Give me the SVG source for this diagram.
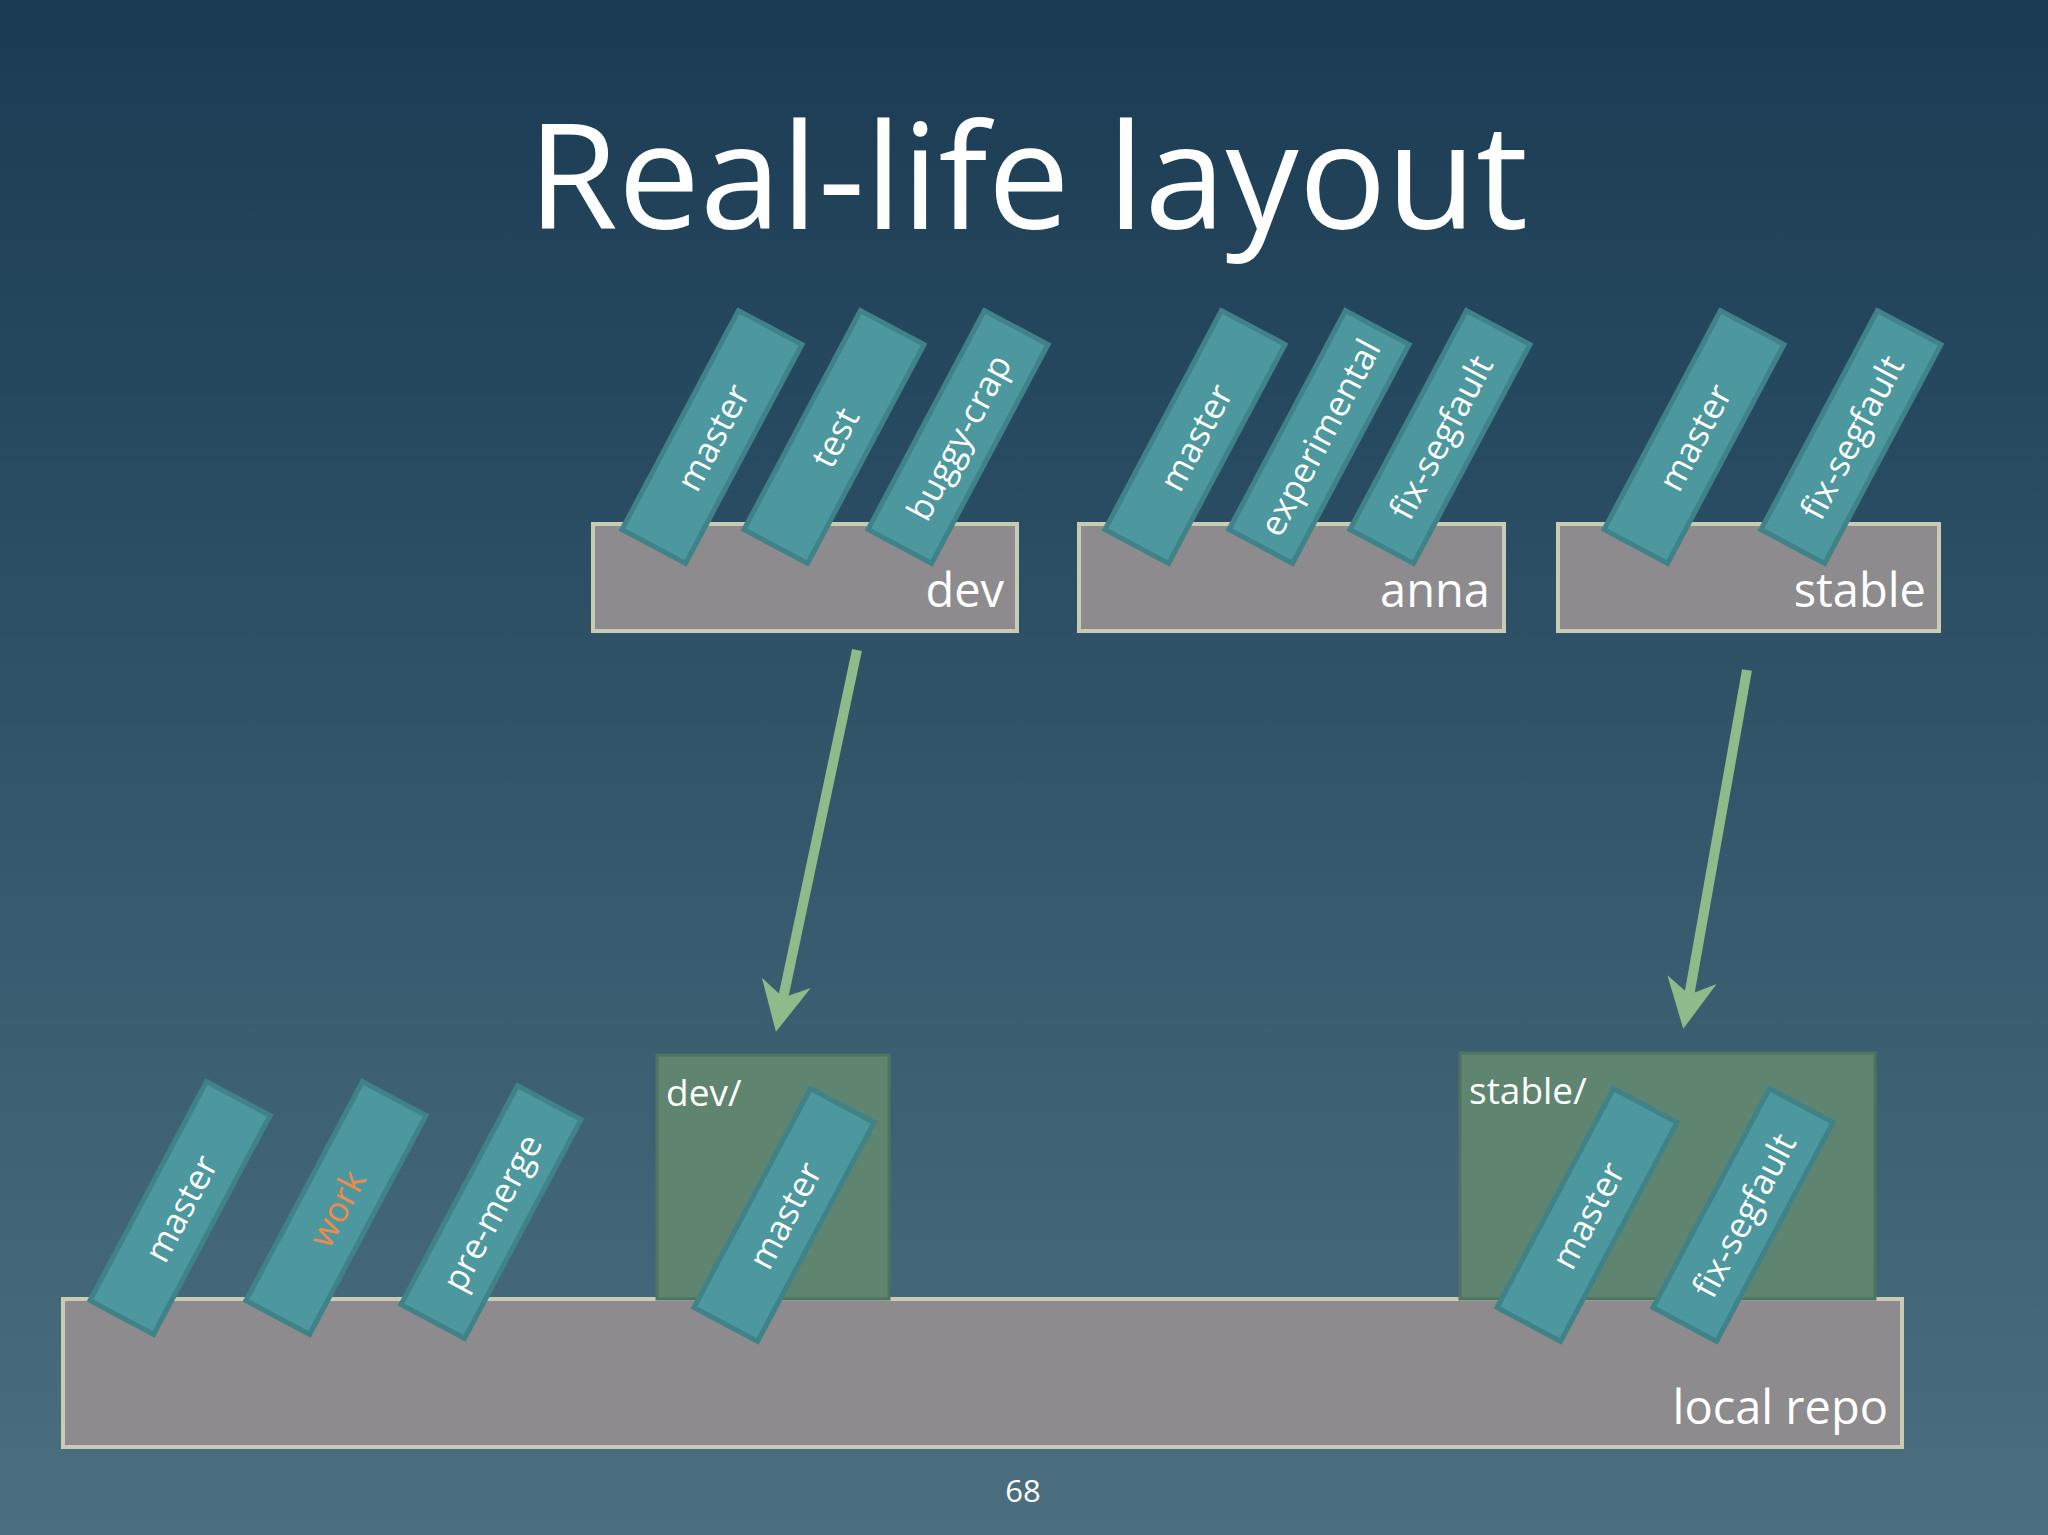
<svg xmlns="http://www.w3.org/2000/svg" width="2048" height="1535" viewBox="0 0 2048 1535">
<defs>
<linearGradient id="bg" x1="0" y1="0" x2="0" y2="1"><stop offset="0" stop-color="#1a3b53"/><stop offset="1" stop-color="#4b6f80"/></linearGradient>
<marker id="ah" viewBox="0 0 10 10" refX="8" refY="5" markerWidth="5" markerHeight="5" orient="auto"><path d="M0,0 L10,5 L0,10 L3,5 Z" fill="#8fba8a"/></marker>
</defs>
<style>
text{font-family:"Open Sans","Liberation Sans",sans-serif;fill:#fff}
.repo{fill:#8d8b8e;stroke:#c9cbb4;stroke-width:4}
.grp{fill:#5f8470;stroke:#4e7460;stroke-width:3}
.tag rect{fill:#4c989e;stroke:#3f8388;stroke-width:5}
.tag text{font-size:35px;text-anchor:middle;dominant-baseline:central}
.lbl{font-size:47px;text-anchor:end}
.sub{font-size:37px}
.arr{stroke:#8fba8a;stroke-width:10;fill:none;marker-end:url(#ah)}
</style>
<rect width="2048" height="1535" fill="url(#bg)"/>
<text x="1028" y="229" font-size="146" text-anchor="middle">Real-life layout</text>
<g id="connectors">
<line class="arr" x1="857" y1="650" x2="778" y2="1022"/>
<line class="arr" x1="1747" y1="670" x2="1685" y2="1019"/>
</g>
<g id="local-repo"><rect class="repo" x="63" y="1299" width="1839" height="148"/><text class="lbl" x="1888" y="1424">local repo</text></g>
<g id="dev-remote"><rect class="grp" x="657" y="1055" width="232" height="244"/><text class="sub" x="666" y="1106">dev/</text></g>
<g id="stable-remote"><rect class="grp" x="1460" y="1053" width="415" height="246"/><text class="sub" x="1469" y="1104">stable/</text></g>
<g id="dev"><rect class="repo" x="593" y="524" width="424" height="107"/><text class="lbl" x="1004" y="607">dev</text></g>
<g id="anna"><rect class="repo" x="1079" y="524" width="425" height="107"/><text class="lbl" x="1490" y="607">anna</text></g>
<g id="stable"><rect class="repo" x="1558" y="524" width="381" height="107"/><text class="lbl" x="1926" y="607">stable</text></g>
<g id="dev-master" class="tag" transform="translate(712,437) rotate(-62)"><rect x="-124" y="-36" width="248" height="72"/><text>master</text></g>
<g id="dev-test" class="tag" transform="translate(834,437) rotate(-62)"><rect x="-124" y="-36" width="248" height="72"/><text>test</text></g>
<g id="dev-buggy" class="tag" transform="translate(958,437) rotate(-62)"><rect x="-124" y="-36" width="248" height="72"/><text>buggy-crap</text></g>
<g id="anna-master" class="tag" transform="translate(1195,437) rotate(-62)"><rect x="-124" y="-36" width="248" height="72"/><text>master</text></g>
<g id="anna-exp" class="tag" transform="translate(1319,437) rotate(-62)"><rect x="-124" y="-36" width="248" height="72"/><text>experimental</text></g>
<g id="anna-fix" class="tag" transform="translate(1440,437) rotate(-62)"><rect x="-124" y="-36" width="248" height="72"/><text>fix-segfault</text></g>
<g id="stable-master" class="tag" transform="translate(1694,437) rotate(-62)"><rect x="-124" y="-36" width="248" height="72"/><text>master</text></g>
<g id="stable-fix" class="tag" transform="translate(1851,437) rotate(-62)"><rect x="-124" y="-36" width="248" height="72"/><text>fix-segfault</text></g>
<g id="local-master" class="tag" transform="translate(180,1208) rotate(-62)"><rect x="-124" y="-36" width="248" height="72"/><text>master</text></g>
<g id="local-work" class="tag" transform="translate(336,1208) rotate(-62)"><rect x="-124" y="-36" width="248" height="72"/><text style="fill:#f08a4b">work</text></g>
<g id="local-premerge" class="tag" transform="translate(491,1212) rotate(-62)"><rect x="-124" y="-36" width="248" height="72"/><text>pre-merge</text></g>
<g id="devr-master" class="tag" transform="translate(784,1215) rotate(-62)"><rect x="-124" y="-36" width="248" height="72"/><text>master</text></g>
<g id="stabler-master" class="tag" transform="translate(1587,1215) rotate(-62)"><rect x="-124" y="-36" width="248" height="72"/><text>master</text></g>
<g id="stabler-fix" class="tag" transform="translate(1743,1215) rotate(-62)"><rect x="-124" y="-36" width="248" height="72"/><text>fix-segfault</text></g>
<text x="1023" y="1502" font-size="31" text-anchor="middle">68</text>
</svg>
